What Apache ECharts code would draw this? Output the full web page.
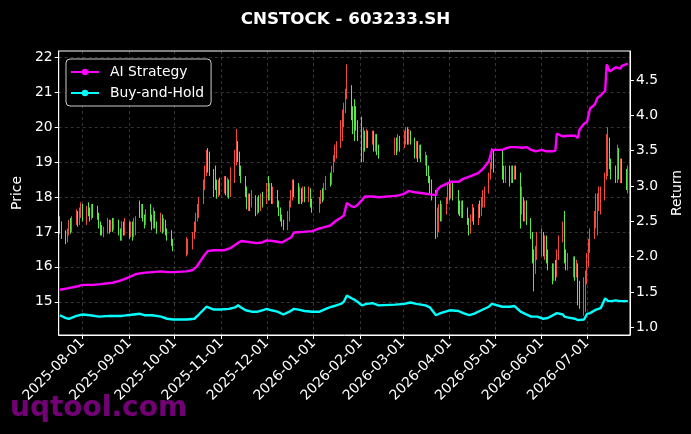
<!DOCTYPE html>
<html><head><meta charset="utf-8">
<script src="https://cdn.jsdelivr.net/npm/echarts@6/dist/echarts.min.js"></script>
<style>html,body{margin:0;padding:0;background:#000;}#c{width:691px;height:434px;}</style>
</head><body><div id="c"></div>
<script>
// [date, open, close, low, high]
const candles = [
["2025-07-17",17.35,17.05,16.95,17.45],["2025-07-18",17.10,16.85,16.80,17.30],["2025-07-21",16.85,16.75,16.65,17.05],["2025-07-22",16.80,17.00,16.70,17.10],["2025-07-23",16.95,17.25,16.90,17.35],["2025-07-24",17.20,17.05,16.95,17.40],["2025-07-25",17.05,17.35,17.00,17.45],["2025-07-28",17.30,17.55,17.20,17.65],["2025-07-29",17.50,17.30,17.15,17.60],["2025-07-30",17.30,17.60,17.20,17.70],["2025-07-31",17.55,17.75,17.40,17.85],
["2025-08-01",17.70,17.40,17.30,17.80],["2025-08-04",17.35,17.70,17.20,17.75],["2025-08-05",17.70,17.55,17.45,17.85],["2025-08-06",17.55,17.40,17.30,17.70],["2025-08-07",17.40,17.75,17.35,17.80],["2025-08-08",17.70,17.50,17.40,17.80],["2025-08-11",17.70,17.45,17.35,17.75],["2025-08-12",17.45,17.20,17.10,17.55],["2025-08-13",17.20,17.00,16.90,17.30],["2025-08-14",17.15,16.95,16.90,17.20],["2025-08-15",16.95,17.05,16.85,17.15],["2025-08-18",17.05,17.30,16.95,17.40],["2025-08-19",17.25,17.05,16.95,17.35],["2025-08-20",17.05,17.30,17.00,17.35],["2025-08-21",17.30,17.10,17.00,17.40],["2025-08-22",17.10,17.35,17.05,17.40],["2025-08-25",17.30,17.00,16.90,17.35],["2025-08-26",17.00,16.85,16.75,17.10],["2025-08-27",16.85,17.20,16.75,17.30],["2025-08-28",17.20,17.00,16.90,17.30],["2025-08-29",17.00,17.25,16.90,17.40],
["2025-09-01",17.20,17.00,16.80,17.30],["2025-09-02",16.95,17.25,16.85,17.30],["2025-09-03",17.25,16.90,16.75,17.30],["2025-09-04",16.90,17.30,16.85,17.40],["2025-09-05",17.05,17.35,16.90,17.45],["2025-09-08",17.85,17.50,17.40,17.90],["2025-09-09",17.50,17.75,17.40,17.80],["2025-09-10",17.75,17.40,17.30,17.80],["2025-09-11",17.40,17.20,17.10,17.50],["2025-09-12",17.25,17.55,17.20,17.65],["2025-09-15",17.70,17.40,17.30,17.80],["2025-09-16",17.40,17.15,17.05,17.50],["2025-09-17",17.15,17.50,17.10,17.70],["2025-09-18",17.50,17.20,17.10,17.60],["2025-09-19",17.20,17.05,16.95,17.30],["2025-09-22",17.10,17.40,17.00,17.55],["2025-09-23",17.40,17.10,16.95,17.50],["2025-09-24",17.10,17.30,17.00,17.40],["2025-09-25",17.30,17.00,16.90,17.35],["2025-09-26",17.00,16.85,16.75,17.10],["2025-09-29",17.00,16.70,16.60,17.05],["2025-09-30",16.70,16.50,16.45,16.80],
["2025-10-09",16.40,16.75,16.30,16.85],["2025-10-10",16.45,16.70,16.35,16.80],["2025-10-13",16.60,16.90,16.50,17.00],["2025-10-14",16.90,17.20,16.80,17.30],["2025-10-15",17.10,17.45,17.00,17.55],["2025-10-16",17.40,17.70,17.30,17.80],["2025-10-17",17.50,17.90,17.40,18.00],["2025-10-20",17.90,18.40,17.80,18.50],["2025-10-21",18.30,18.80,18.20,18.90],["2025-10-22",18.80,19.20,18.60,19.35],["2025-10-23",19.20,18.90,18.70,19.40],["2025-10-24",18.90,18.70,18.60,19.30],["2025-10-27",18.70,18.20,18.00,18.80],["2025-10-28",18.85,18.40,18.20,18.90],["2025-10-29",18.40,18.10,17.95,18.50],["2025-10-30",18.10,18.40,18.00,18.50],["2025-10-31",18.40,18.20,18.05,18.55],
["2025-11-03",18.20,18.50,18.10,18.60],["2025-11-04",18.50,18.20,18.05,18.60],["2025-11-05",18.20,18.45,18.00,18.55],["2025-11-06",18.45,18.10,17.95,18.50],["2025-11-07",18.10,18.60,18.00,18.85],["2025-11-10",18.60,19.20,18.40,19.35],["2025-11-11",19.10,19.80,18.90,19.95],["2025-11-12",19.50,19.20,19.00,19.60],["2025-11-13",19.20,18.80,18.60,19.30],["2025-11-14",18.80,18.50,18.40,18.90],["2025-11-17",18.50,18.20,18.00,18.60],["2025-11-18",18.20,17.80,17.65,18.30],["2025-11-19",17.80,18.00,17.60,18.10],["2025-11-20",18.00,17.75,17.60,18.10],["2025-11-21",17.75,18.10,17.70,18.20],["2025-11-24",17.95,17.60,17.45,18.05],["2025-11-25",17.60,17.90,17.50,18.00],["2025-11-26",17.90,17.70,17.55,18.05],["2025-11-27",17.70,18.00,17.60,18.10],["2025-11-28",18.00,17.80,17.70,18.15],
["2025-12-01",17.90,18.30,17.80,18.40],["2025-12-02",18.40,18.00,17.90,18.60],["2025-12-03",18.00,18.30,17.90,18.40],["2025-12-04",18.30,17.90,17.80,18.40],["2025-12-05",17.90,18.20,17.80,18.30],["2025-12-08",18.10,17.80,17.70,18.20],["2025-12-09",17.80,17.60,17.45,17.90],["2025-12-10",17.60,17.40,17.30,17.70],["2025-12-11",17.40,17.25,17.15,17.50],["2025-12-12",17.25,17.10,17.05,17.35],["2025-12-15",17.10,17.50,17.05,17.60],["2025-12-16",17.40,17.80,17.30,17.90],["2025-12-17",17.80,18.10,17.70,18.20],["2025-12-18",18.00,18.40,17.90,18.50],["2025-12-19",18.40,18.10,18.00,18.50],["2025-12-22",18.30,17.90,17.80,18.40],["2025-12-23",17.90,18.20,17.80,18.30],["2025-12-24",18.20,17.90,17.80,18.25],["2025-12-25",17.90,18.20,17.85,18.30],["2025-12-26",18.20,17.95,17.85,18.30],["2025-12-29",17.95,18.20,17.85,18.30],["2025-12-30",18.20,17.80,17.70,18.25],["2025-12-31",17.80,17.65,17.55,17.95],
["2026-01-05",17.65,17.90,17.55,18.00],["2026-01-06",17.90,18.10,17.80,18.20],["2026-01-07",18.10,17.95,17.85,18.25],["2026-01-08",17.95,18.30,17.90,18.40],["2026-01-09",18.30,18.50,18.20,18.60],["2026-01-12",18.60,18.40,18.30,18.70],["2026-01-13",18.40,18.80,18.35,18.90],["2026-01-14",18.80,19.10,18.70,19.20],["2026-01-15",19.10,19.40,19.00,19.50],["2026-01-16",19.20,19.50,19.10,19.60],["2026-01-19",19.50,20.10,19.40,20.20],["2026-01-20",19.70,20.30,19.60,20.50],["2026-01-21",20.20,20.60,20.00,20.70],["2026-01-22",20.50,21.00,20.40,21.10],["2026-01-23",21.00,21.60,20.80,21.80],["2026-01-26",21.10,20.40,20.20,21.20],["2026-01-27",20.40,20.10,19.80,20.60],["2026-01-28",20.60,20.00,19.60,20.80],["2026-01-29",20.40,20.10,19.90,20.60],["2026-01-30",20.10,19.80,19.60,20.20],
["2026-02-02",20.20,19.20,19.00,20.30],["2026-02-03",19.20,19.80,19.00,20.00],["2026-02-04",19.80,19.50,19.30,19.90],["2026-02-05",19.50,19.80,19.40,19.95],["2026-02-06",19.80,19.50,19.40,19.90],["2026-02-09",19.60,19.80,19.50,19.90],["2026-02-10",19.80,19.40,19.30,19.90],["2026-02-11",19.40,19.70,19.30,19.80],["2026-02-12",19.70,19.35,19.20,19.80],["2026-02-13",19.35,19.20,19.10,19.50],["2026-02-24",19.30,19.60,19.20,19.70],["2026-02-25",19.60,19.40,19.20,19.70],["2026-02-26",19.40,19.70,19.30,19.80],["2026-02-27",19.70,19.45,19.30,19.75],
["2026-03-02",19.45,19.80,19.40,19.90],["2026-03-03",19.60,19.90,19.50,20.00],["2026-03-04",19.90,19.60,19.50,20.00],["2026-03-05",19.60,19.85,19.50,19.95],["2026-03-06",19.85,19.60,19.50,19.90],["2026-03-09",19.60,19.20,19.10,19.70],["2026-03-10",19.20,19.50,19.10,19.60],["2026-03-11",19.50,19.20,19.00,19.60],["2026-03-12",19.20,19.40,19.10,19.50],["2026-03-13",19.40,19.10,19.00,19.50],["2026-03-16",19.00,19.20,18.90,19.30],["2026-03-17",19.10,18.80,18.60,19.20],["2026-03-18",18.80,18.50,18.40,18.90],["2026-03-19",18.50,18.20,18.10,18.60],["2026-03-20",18.30,18.00,17.90,18.50],["2026-03-23",18.10,17.00,16.80,18.20],["2026-03-24",17.00,17.50,16.85,17.70],["2026-03-25",17.40,17.70,17.00,17.80],["2026-03-26",17.70,17.40,17.30,17.90],["2026-03-27",17.40,17.70,17.30,17.80],["2026-03-30",17.60,17.90,17.50,18.00],["2026-03-31",17.90,18.30,17.80,18.40],
["2026-04-01",18.30,18.00,17.90,18.50],["2026-04-02",18.00,18.30,17.95,18.40],["2026-04-03",18.30,18.10,17.90,18.40],["2026-04-07",18.10,17.70,17.50,18.20],["2026-04-08",17.70,17.60,17.45,17.90],["2026-04-09",17.60,17.80,17.40,17.90],["2026-04-10",17.80,17.50,17.40,17.90],["2026-04-13",17.60,17.30,17.20,17.70],["2026-04-14",17.30,17.00,16.90,17.40],["2026-04-15",17.00,17.40,16.95,17.50],["2026-04-16",17.40,17.60,17.30,17.80],["2026-04-17",17.60,17.30,17.20,17.70],["2026-04-20",17.30,17.70,17.20,17.80],["2026-04-21",17.70,17.50,17.40,17.90],["2026-04-22",17.50,17.90,17.45,18.00],["2026-04-23",17.90,18.10,17.70,18.20],["2026-04-24",17.80,18.20,17.70,18.30],["2026-04-27",18.20,18.60,18.10,18.70],["2026-04-28",18.60,18.90,18.50,19.00],["2026-04-29",18.90,19.30,18.80,19.40],["2026-04-30",19.30,18.80,18.70,19.35],
["2026-05-06",19.20,18.70,18.50,19.35],["2026-05-07",18.70,18.50,18.40,18.90],["2026-05-08",18.50,18.80,18.40,18.90],["2026-05-11",18.80,18.50,18.30,18.90],["2026-05-12",18.50,18.80,18.40,18.90],["2026-05-13",18.80,18.60,18.40,18.90],["2026-05-14",18.60,18.85,18.50,18.90],["2026-05-15",18.85,18.60,18.50,18.90],["2026-05-18",18.60,17.60,17.10,18.70],["2026-05-19",17.60,17.90,17.50,18.30],["2026-05-20",17.90,17.50,17.30,18.00],["2026-05-21",17.50,17.80,17.30,17.90],["2026-05-22",17.80,17.40,17.20,17.90],["2026-05-25",17.30,16.90,16.80,17.40],["2026-05-26",16.90,16.30,16.10,17.00],["2026-05-27",16.30,15.80,15.30,16.50],["2026-05-28",15.90,16.40,15.80,16.60],["2026-05-29",16.40,16.70,16.20,17.00],
["2026-06-01",16.50,16.90,16.30,17.10],["2026-06-02",16.90,16.50,16.30,17.00],["2026-06-03",16.50,16.80,16.20,16.90],["2026-06-04",16.80,16.30,16.10,16.90],["2026-06-05",16.30,16.00,15.90,16.50],["2026-06-08",15.90,15.70,15.50,16.10],["2026-06-09",15.70,16.00,15.60,16.10],["2026-06-10",16.00,15.80,15.60,16.20],["2026-06-11",15.80,16.30,15.70,16.50],["2026-06-12",16.30,16.70,16.20,16.90],["2026-06-15",16.80,17.20,16.70,17.30],["2026-06-16",17.30,16.40,16.10,17.60],["2026-06-17",16.40,16.10,15.90,16.50],["2026-06-18",16.10,16.30,15.90,16.40],["2026-06-22",16.00,16.20,15.70,16.30],["2026-06-23",16.20,15.90,15.60,16.30],["2026-06-24",15.90,16.10,15.70,16.20],["2026-06-25",16.00,15.20,14.90,16.10],["2026-06-26",15.20,15.00,14.80,15.60],["2026-06-29",15.00,15.50,14.60,15.70],["2026-06-30",14.90,15.60,14.70,15.90],
["2026-07-01",15.60,16.20,15.50,16.40],["2026-07-02",16.20,16.60,16.00,16.80],["2026-07-03",16.60,16.90,16.40,17.10],["2026-07-06",16.90,17.40,16.80,17.60],["2026-07-07",17.40,17.90,17.10,18.10],["2026-07-08",17.20,17.90,16.90,18.10],["2026-07-09",17.90,18.20,17.60,18.30],["2026-07-10",17.60,18.10,17.50,18.30],["2026-07-13",18.10,18.60,17.90,18.70],["2026-07-14",18.60,19.60,18.50,19.80],["2026-07-15",18.80,19.70,18.60,20.00],["2026-07-16",19.60,19.00,18.80,19.70],["2026-07-17",19.00,18.70,18.50,19.10],["2026-07-20",18.70,18.50,18.40,18.90],["2026-07-21",18.50,19.20,18.40,19.50],["2026-07-22",19.20,18.70,18.50,19.40],["2026-07-23",18.70,19.00,18.40,19.10],["2026-07-24",19.00,18.60,18.40,19.10],["2026-07-27",18.60,18.40,18.20,18.80],["2026-07-28",18.30,18.70,18.10,18.90]
];

const aiStrategy = [
["2025-07-17",1.53],["2025-07-22",1.55],["2025-07-29",1.58],["2025-08-01",1.60],["2025-08-08",1.60],["2025-08-13",1.61],["2025-08-21",1.63],["2025-08-26",1.66],["2025-09-01",1.71],["2025-09-05",1.75],["2025-09-10",1.77],["2025-09-16",1.78],["2025-09-22",1.79],["2025-09-26",1.78],["2025-09-30",1.78],["2025-10-09",1.79],["2025-10-13",1.81],["2025-10-16",1.87],["2025-10-20",2.00],["2025-10-23",2.08],["2025-10-27",2.09],["2025-11-03",2.09],["2025-11-07",2.12],["2025-11-11",2.18],["2025-11-14",2.22],["2025-11-18",2.21],["2025-11-24",2.19],["2025-11-28",2.20],["2025-12-01",2.23],["2025-12-05",2.22],["2025-12-11",2.20],["2025-12-17",2.27],["2025-12-19",2.34],["2025-12-25",2.35],["2025-12-31",2.36],["2026-01-05",2.40],["2026-01-09",2.42],["2026-01-12",2.44],["2026-01-16",2.51],["2026-01-19",2.55],["2026-01-21",2.58],["2026-01-23",2.76],["2026-01-26",2.71],["2026-01-28",2.70],["2026-01-30",2.73],["2026-02-02",2.80],["2026-02-04",2.85],["2026-02-09",2.85],["2026-02-13",2.84],["2026-02-24",2.86],["2026-02-27",2.87],["2026-03-02",2.89],["2026-03-05",2.93],["2026-03-06",2.95],["2026-03-09",2.91],["2026-03-13",2.90],["2026-03-19",2.88],["2026-03-23",2.87],["2026-03-24",2.95],["2026-03-26",2.99],["2026-03-30",3.03],["2026-04-02",3.06],["2026-04-07",3.06],["2026-04-10",3.10],["2026-04-15",3.14],["2026-04-20",3.18],["2026-04-23",3.24],["2026-04-27",3.35],["2026-04-29",3.51],["2026-04-30",3.52],["2026-05-06",3.51],["2026-05-08",3.53],["2026-05-11",3.55],["2026-05-15",3.55],["2026-05-19",3.54],["2026-05-22",3.55],["2026-05-25",3.51],["2026-05-28",3.49],["2026-06-01",3.51],["2026-06-04",3.49],["2026-06-08",3.49],["2026-06-10",3.50],["2026-06-11",3.74],["2026-06-12",3.75],["2026-06-15",3.70],["2026-06-18",3.71],["2026-06-23",3.71],["2026-06-25",3.68],["2026-06-26",3.80],["2026-06-29",3.88],["2026-07-01",3.91],["2026-07-03",4.10],["2026-07-06",4.15],["2026-07-08",4.25],["2026-07-10",4.28],["2026-07-13",4.35],["2026-07-14",4.72],["2026-07-16",4.62],["2026-07-20",4.68],["2026-07-23",4.66],["2026-07-24",4.70],["2026-07-28",4.73]
];

const buyHold = [
["2025-07-17",1.17],["2025-07-21",1.13],["2025-07-23",1.12],["2025-07-28",1.16],["2025-08-01",1.18],["2025-08-06",1.17],["2025-08-12",1.15],["2025-08-19",1.16],["2025-08-27",1.16],["2025-09-04",1.18],["2025-09-08",1.19],["2025-09-11",1.17],["2025-09-16",1.17],["2025-09-22",1.15],["2025-09-26",1.12],["2025-09-30",1.11],["2025-10-09",1.11],["2025-10-14",1.12],["2025-10-17",1.18],["2025-10-22",1.29],["2025-10-27",1.25],["2025-10-31",1.25],["2025-11-06",1.26],["2025-11-10",1.28],["2025-11-12",1.31],["2025-11-14",1.28],["2025-11-17",1.24],["2025-11-21",1.22],["2025-11-25",1.22],["2025-11-28",1.24],["2025-12-01",1.26],["2025-12-04",1.24],["2025-12-08",1.22],["2025-12-12",1.18],["2025-12-16",1.22],["2025-12-19",1.26],["2025-12-22",1.25],["2025-12-26",1.23],["2025-12-31",1.22],["2026-01-05",1.22],["2026-01-09",1.26],["2026-01-13",1.29],["2026-01-16",1.31],["2026-01-19",1.33],["2026-01-21",1.36],["2026-01-23",1.45],["2026-01-26",1.41],["2026-01-28",1.39],["2026-01-30",1.36],["2026-02-02",1.31],["2026-02-05",1.33],["2026-02-09",1.34],["2026-02-13",1.31],["2026-02-24",1.32],["2026-03-02",1.33],["2026-03-06",1.35],["2026-03-10",1.33],["2026-03-16",1.31],["2026-03-19",1.28],["2026-03-23",1.17],["2026-03-26",1.20],["2026-03-27",1.22],["2026-04-01",1.24],["2026-04-07",1.23],["2026-04-10",1.20],["2026-04-14",1.17],["2026-04-17",1.19],["2026-04-22",1.24],["2026-04-27",1.29],["2026-04-29",1.33],["2026-04-30",1.31],["2026-05-06",1.29],["2026-05-11",1.29],["2026-05-14",1.30],["2026-05-18",1.22],["2026-05-21",1.19],["2026-05-25",1.15],["2026-05-29",1.15],["2026-06-02",1.12],["2026-06-05",1.13],["2026-06-11",1.20],["2026-06-15",1.18],["2026-06-16",1.15],["2026-06-18",1.14],["2026-06-23",1.12],["2026-06-25",1.10],["2026-06-26",1.09],["2026-06-29",1.11],["2026-07-01",1.19],["2026-07-03",1.20],["2026-07-07",1.25],["2026-07-10",1.27],["2026-07-13",1.41],["2026-07-15",1.37],["2026-07-17",1.37],["2026-07-20",1.38],["2026-07-23",1.37],["2026-07-24",1.35],["2026-07-28",1.37]
];

const monthTicks = ["2025-08-01","2025-09-01","2025-10-01","2025-11-01","2025-12-01","2026-01-01","2026-02-01","2026-03-01","2026-04-01","2026-05-01","2026-06-01","2026-07-01"];
const priceTicks = [15,16,17,18,19,20,21,22];
const returnTicks = [1.0,1.5,2.0,2.5,3.0,3.5,4.0,4.5];

function ts(s){ const p = s.split('-').map(Number); return new Date(p[0], p[1]-1, p[2]).getTime(); }
function pad(n){ return (n<10?'0':'')+n; }
function fmtDate(v){ const d = new Date(v); return d.getFullYear()+'-'+pad(d.getMonth()+1)+'-'+pad(d.getDate()); }

const HOUR = 3600*1000;
const xMin = ts("2025-07-16") + 6*HOUR;
const xMax = ts("2026-07-29") + 10*HOUR;
const monthTs = monthTicks.map(ts);
const FONT = 'DejaVu Sans';
const UP = '#f24a40', DOWN = '#5ae84a';
const gridLine = {show:true, lineStyle:{color:'rgba(255,255,255,0.26)', type:[3,3], width:0.8}};

const chart = echarts.init(document.getElementById('c'));
chart.setOption({
  backgroundColor:'#000',
  animation:false,
  title:{text:'CNSTOCK - 603233.SH', left:'center', top:6,
    textStyle:{color:'#fff', fontSize:16.7, fontWeight:'bold', fontFamily:FONT}},
  legend:{orient:'vertical', left:66, top:59, data:['AI Strategy','Buy-and-Hold'],
    textStyle:{color:'#fff', fontSize:13.9, fontFamily:FONT, padding:[0,0,0,6]},
    itemWidth:28, itemHeight:8, itemGap:7, padding:[6,7,6,4],
    borderColor:'#ccc', borderWidth:1, borderRadius:4, backgroundColor:'rgba(0,0,0,0.85)'},
  grid:{left:58.7, right:61, top:51, bottom:99, show:true, borderColor:'#fff', borderWidth:1,
    containLabel:false, outerBoundsMode:'none'},
  xAxis:{type:'value', min:xMin, max:xMax, scale:true,
    axisLine:{show:true, lineStyle:{color:'#fff'}},
    axisTick:{show:true, customValues:monthTs, length:4, lineStyle:{color:'#fff'}},
    axisLabel:{customValues:monthTs, rotate:45, color:'#fff', fontSize:13.9, fontFamily:FONT, margin:6, formatter:fmtDate},
    splitLine:gridLine},
  yAxis:[
    {type:'value', position:'left', min:14.05, max:22.18, name:'Price', nameLocation:'middle', nameGap:34, nameRotate:90,
      nameTextStyle:{color:'#fff', fontSize:13.9, fontFamily:FONT},
      axisLine:{show:true, lineStyle:{color:'#fff'}},
      axisTick:{show:true, customValues:priceTicks, length:4, lineStyle:{color:'#fff'}},
      axisLabel:{customValues:priceTicks, color:'#fff', fontSize:13.9, fontFamily:FONT, margin:6},
      splitLine:gridLine},
    {type:'value', position:'right', min:0.89, max:4.91, name:'Return', nameLocation:'middle', nameGap:40, nameRotate:90,
      nameTextStyle:{color:'#fff', fontSize:13.9, fontFamily:FONT},
      axisLine:{show:true, lineStyle:{color:'#fff'}},
      axisTick:{show:true, customValues:returnTicks, length:4, lineStyle:{color:'#fff'}},
      axisLabel:{customValues:returnTicks, color:'#fff', fontSize:13.9, fontFamily:FONT, margin:6, formatter:v=>v.toFixed(1)},
      splitLine:{show:false}}
  ],
  series:[
    {type:'candlestick', name:'Price', yAxisIndex:0, barWidth:1.3,
      encode:{x:0, y:[1,2,3,4]},
      data:candles.map(r=>[ts(r[0]), r[1], r[2], r[3], r[4]]),
      itemStyle:{color:UP, color0:DOWN, borderColor:UP, borderColor0:DOWN, borderWidth:1}},
    {type:'line', name:'AI Strategy', yAxisIndex:1, data:aiStrategy.map(r=>[ts(r[0]), r[1]]),
      showSymbol:false, symbol:'circle', symbolSize:5, color:'#ff00ff',
      lineStyle:{color:'#ff00ff', width:2.4}, z:5},
    {type:'line', name:'Buy-and-Hold', yAxisIndex:1, data:buyHold.map(r=>[ts(r[0]), r[1]]),
      showSymbol:false, symbol:'circle', symbolSize:5, color:'#00ffff',
      lineStyle:{color:'#00ffff', width:2.4}, z:5}
  ],
  graphic:[{type:'text', left:10, top:395, z:100,
    style:{text:'uqtool.com', font:'bold 28px "DejaVu Sans"', fill:'rgba(135,0,140,0.85)'}}]
});
</script>
</body></html>
